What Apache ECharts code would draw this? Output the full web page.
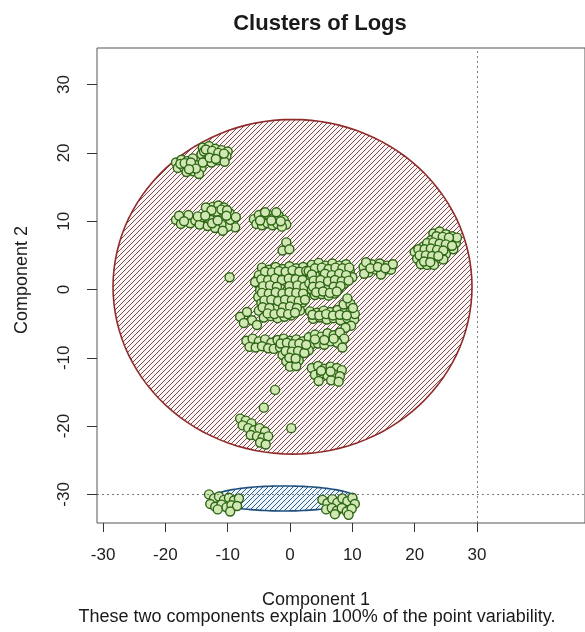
<!DOCTYPE html>
<html>
<head>
<meta charset="utf-8">
<script src="https://cdn.jsdelivr.net/npm/echarts@6/dist/echarts.min.js"></script>
<style>
html,body{margin:0;padding:0;background:#fff;}
#chart{width:585px;height:632px;}
</style>
</head>
<body>
<div id="chart"></div>
<script>
// ---------- data ----------
const chartTitle = 'Clusters of Logs';
const xAxisTitle = 'Component 1';
const yAxisTitle = 'Component 2';
const subTitle = 'These two components explain 100% of the point variability.';

const xTicks = [-30, -20, -10, 0, 10, 20, 30];
const yTicks = [-30, -20, -10, 0, 10, 20, 30];

// cluster ellipses: centre, semi-axes (data units)
const ellipseCX = [0.4, -1.0];
const ellipseCY = [0.4, -30.6];
const ellipseRX = [28.8, 11.7];
const ellipseRY = [24.5, 1.83];

// dotted reference lines
const refLineX = [30];
const refLineY = [-30];

// observation scores
const groupTopLeft = [
  [-14.0,20.8],[-13.0,21.0],[-12.0,20.6],[-11.0,20.4],[-10.0,20.2],[-14.2,19.8],[-13.2,19.9],[-12.2,19.6],
  [-11.2,19.4],[-10.2,19.5],[-13.5,18.8],[-12.6,18.6],[-11.6,18.9],[-10.5,18.7],[-13.8,20.2],[-12.7,20.1],
  [-18.3,18.6],[-17.4,19.0],[-16.5,18.8],[-15.6,19.2],[-18.0,17.8],[-17.0,17.9],[-16.0,18.0],[-15.0,18.2],
  [-14.2,17.8],[-16.6,17.2],[-15.5,17.3],[-14.6,16.9],[-17.6,18.4],[-14.0,18.6],
  [-13.5,20.5],[-12.5,20.3],[-11.5,20.0],[-10.6,19.9],[-12.9,19.3],[-11.9,19.1],[-16.9,18.5],[-15.9,18.6],
  [-15.1,17.7],[-16.2,17.6]
];
const groupLeft10 = [
  [-18.3,10.2],[-17.5,9.6],[-16.8,10.3],[-16.0,9.7],[-15.2,10.1],[-17.8,10.8],[-16.3,10.9],[-14.5,9.5],
  [-14.0,10.6],[-13.2,9.3],[-13.0,11.2],[-12.4,12.1],[-11.5,12.3],[-10.6,12.0],[-12.2,10.4],[-11.3,10.9],
  [-10.5,10.4],[-9.7,11.2],[-9.2,9.8],[-8.8,9.1],[-10.0,9.2],[-11.0,9.5],[-12.0,9.0],[-13.5,12.0],
  [-11.8,11.4],[-9.6,10.2],[-10.8,8.6],[-12.8,10.2],[-14.8,10.7],[-8.7,10.6],
  [-12.6,11.6],[-11.0,11.7],[-10.1,11.6],[-12.5,9.7],[-11.6,10.1],[-10.2,10.8],[-13.6,10.8],[-17.0,10.0]
];
const groupMid10 = [
  [-5.8,10.3],[-5.0,10.9],[-4.2,10.4],[-3.4,10.9],[-2.6,10.5],[-1.8,10.8],[-1.0,10.2],[-0.6,9.5],
  [-5.4,9.6],[-4.5,9.4],[-3.6,9.7],[-2.8,9.4],[-2.0,9.6],[-1.3,9.2],[-4.0,11.3],[-2.2,11.3],
  [-4.8,10.1],[-3.0,10.1],[-1.5,10.0]
];
const groupStray = [
  [-0.6,6.9],[-1.2,5.7],[-0.1,5.9],[-9.7,1.8],[-2.4,-14.7],[-4.2,-17.3],[0.2,-20.3]
];
const groupCore = [
  [-4.5,3.2],[-3.4,2.9],[-2.3,3.3],[-1.2,3.0],[-0.1,3.4],[1.0,3.1],[2.1,3.3],
  [-5.0,2.1],[-3.9,1.8],[-2.8,2.2],[-1.7,1.9],[-0.6,2.3],[0.5,2.0],[1.6,2.2],[2.6,1.9],
  [-5.2,0.9],[-4.2,1.2],[-3.1,0.8],[-2.0,1.1],[-0.9,0.9],[0.2,1.2],[1.3,0.8],[2.4,1.0],
  [-4.8,-0.1],[-3.7,0.2],[-2.6,-0.2],[-1.5,0.1],[-0.4,-0.1],[0.7,0.2],[1.8,-0.2],[2.8,0.1],
  [-5.1,-1.1],[-4.0,-0.9],[-2.9,-1.2],[-1.8,-0.9],[-0.7,-1.1],[0.4,-0.8],[1.5,-1.2],[2.5,-1.0],
  [-4.6,-2.0],[-3.5,-2.3],[-2.4,-1.9],[-1.3,-2.2],[-0.2,-2.0],[0.9,-2.3],[2.0,-1.9],
  [-5.0,-3.1],[-3.9,-2.9],[-2.8,-3.3],[-1.7,-3.0],[-0.6,-3.2],[0.5,-2.9],[1.6,-3.1],
  [-4.2,-4.1],[-3.1,-3.9],[-2.0,-4.2],[-0.9,-4.0],[0.2,-3.8],
  [-5.6,1.1],[-3.0,0.5],[-1.0,1.6],[0.0,-0.6],[1.0,-1.6],[-2.2,-2.7],[0.8,2.6],
  [-8.0,-4.0],[-6.9,-3.3],[-6.1,-4.5],[-5.3,-5.2],[-7.4,-4.9],
  [-4.0,2.6],[-2.9,2.5],[-1.8,2.7],[-0.7,2.6],[0.4,2.8],[1.5,2.6],[2.6,2.7],
  [-4.6,1.5],[-3.5,1.4],[-2.4,1.6],[-1.3,1.4],[-0.2,1.6],[0.9,1.5],[2.0,1.4],
  [-4.3,0.5],[-3.2,0.6],[-2.1,0.4],[-0.1,0.5],[1.2,0.6],[2.3,0.4],
  [-4.5,-0.5],[-3.4,-0.6],[-2.3,-0.4],[-1.2,-0.6],[-0.1,-0.4],[1.0,-0.5],[2.1,-0.6],
  [-4.1,-1.6],[-3.0,-1.5],[-1.9,-1.7],[-0.8,-1.5],[0.3,-1.6],[1.4,-1.7],[2.4,-1.5],
  [-4.4,-2.6],[-3.3,-2.7],[-1.1,-2.6],[0.0,-2.5],[1.1,-2.7],
  [-3.6,-3.5],[-2.5,-3.6],[-1.4,-3.4],[-0.3,-3.6],[0.8,-3.4]
];
const groupCoreRight = [
  [3.5,3.6],[4.6,3.9],[5.7,3.5],[6.8,3.8],[7.9,3.5],[9.0,3.7],
  [3.0,2.7],[4.1,2.5],[5.2,2.8],[6.3,2.6],[7.4,2.8],[8.5,2.5],[9.6,2.7],
  [3.4,1.8],[4.5,1.6],[5.6,1.9],[6.7,1.7],[7.8,1.9],[8.9,1.6],[10.0,1.8],
  [3.1,0.9],[4.2,0.7],[5.3,1.0],[6.4,0.8],[7.5,1.0],[8.6,0.8],
  [3.5,0.0],[4.6,-0.2],[5.7,0.1],[6.8,-0.1],[7.8,0.1],
  [4.0,-0.8],[5.1,-0.7],[6.2,-0.9],[7.2,-0.6],
  [4.0,2.1],[6.0,2.2],[5.0,1.3],[7.0,1.3],[6.0,0.4],
  [4.0,3.1],[5.1,3.2],[6.2,3.0],[7.3,3.2],[8.4,3.1],[9.5,3.2],
  [3.5,2.2],[5.6,2.3],[6.7,2.1],[7.9,2.3],[9.0,2.1],
  [3.8,1.3],[4.9,1.4],[6.1,1.2],[7.2,1.4],[8.3,1.2],[9.4,1.3],
  [3.7,0.4],[4.8,0.5],[7.0,0.4],[8.1,0.5],
  [4.2,-0.4],[5.3,-0.3],[6.4,-0.5],[7.5,-0.3]
];
const groupCoreArm = [
  [3.2,-3.2],[4.3,-3.4],[5.4,-3.1],[6.5,-3.3],[7.6,-3.0],[8.7,-3.3],[9.8,-3.1],
  [3.7,-4.3],[4.8,-4.1],[5.9,-4.4],[7.0,-4.2],[8.1,-4.5],[9.2,-4.2],[10.3,-4.4],
  [8.6,-2.2],[9.7,-2.1],[9.2,-1.3],[10.4,-3.6],[9.8,-5.3],[8.9,-5.6],
  [3.6,-3.7],[4.7,-3.8],[5.8,-3.6],[6.9,-3.8],[8.0,-3.7],[9.1,-3.8],[10.1,-2.7]
];
const groupEast = [
  [11.8,3.3],[12.6,2.5],[13.1,3.7],[13.8,2.9],[14.4,3.8],[15.0,2.7],[15.6,3.5],[16.2,2.9],
  [12.2,4.0],[14.6,2.2],[16.5,3.7],[11.9,2.3],[12.9,3.1],[14.1,3.3],[15.3,3.1]
];
const groupFarEast = [
  [23.0,8.2],[24.0,8.5],[25.0,8.1],[26.0,7.8],[22.6,7.2],[23.6,7.4],[24.6,7.2],[25.6,7.0],
  [26.6,6.8],[21.4,6.3],[22.3,6.4],[23.3,6.4],[24.3,6.2],[25.3,6.1],[26.2,5.9],[20.0,5.5],
  [21.0,5.6],[22.0,5.4],[23.0,5.5],[24.0,5.3],[25.0,5.2],[20.4,4.5],[21.5,4.6],[22.5,4.3],
  [23.6,4.5],[24.6,4.4],[21.0,3.7],[22.0,3.6],[23.1,3.6],[26.8,7.6],
  [23.5,7.8],[24.5,7.7],[25.5,7.6],[22.0,6.8],[23.0,6.9],[24.0,6.7],[25.0,6.6],[26.0,6.4],
  [20.6,5.9],[21.6,5.9],[22.6,6.0],[23.6,5.8],[24.6,5.7],[20.8,5.0],[21.8,5.0],[22.8,4.9],
  [23.8,4.9],[21.5,4.1],[22.5,4.0]
];
const groupSouth = [
  [-7.0,-7.5],[-6.0,-7.2],[-5.0,-7.6],[-4.0,-7.3],[-3.0,-7.8],[-6.5,-8.4],[-5.5,-8.5],[-4.5,-8.3],
  [-3.5,-8.6],[-2.6,-8.7],[-2.0,-7.4],[-1.0,-7.2],[0.0,-7.5],[1.0,-7.3],[2.0,-7.6],[-1.6,-8.5],
  [-0.6,-8.4],[0.4,-8.6],[1.4,-8.5],[2.4,-8.7],[-1.2,-9.6],[-0.2,-9.5],[0.8,-9.7],[1.8,-9.4],
  [-0.6,-10.5],[0.4,-10.6],[1.4,-10.4],[0.0,-11.3],[1.0,-11.2],
  [3.0,-7.0],[4.0,-6.6],[5.0,-6.9],[6.0,-6.4],[7.0,-6.7],[8.0,-6.3],[8.7,-7.2],[3.5,-8.0],
  [4.5,-7.9],[5.5,-8.1],[6.5,-7.6],[7.6,-7.8],[8.4,-8.5],[3.0,-8.9],
  [-1.5,-7.9],[-0.5,-7.8],[0.5,-8.0],[1.5,-7.9],[-0.7,-9.0],[0.3,-9.1],[1.3,-9.0],[2.3,-9.3],
  [-0.1,-10.0],[0.9,-10.1],[2.6,-8.1],[4.0,-7.3],[5.5,-7.4],[7.0,-7.2]
];
const groupSouthEast = [
  [3.5,-11.5],[4.5,-11.2],[5.5,-11.6],[6.5,-11.3],[7.5,-11.5],[8.3,-11.8],[4.0,-12.5],[5.0,-12.3],
  [6.0,-12.6],[7.0,-12.4],[8.0,-12.7],[4.6,-13.4],[6.6,-13.3],[7.8,-13.5],[5.0,-11.9],[6.5,-12.0]
];
const groupSouthWest = [
  [-8.0,-18.9],[-7.1,-19.2],[-6.2,-19.6],[-7.6,-19.9],[-6.7,-20.3],[-5.8,-20.6],[-4.9,-20.3],
  [-4.0,-20.8],[-6.3,-21.3],[-5.3,-21.5],[-4.4,-21.7],[-3.5,-21.5],[-4.8,-22.4],[-3.9,-22.7]
];
const groupBottomLeft = [
  [-13.0,-30.0],[-12.2,-30.6],[-11.4,-30.3],[-10.6,-30.8],[-9.8,-30.5],[-9.0,-30.9],[-8.2,-30.6],
  [-12.8,-31.4],[-12.0,-31.8],[-11.0,-31.5],[-10.2,-31.9],[-9.4,-31.6],[-8.5,-31.7],[-11.6,-32.2],[-9.6,-32.5]
];
const groupBottomRight = [
  [5.2,-30.8],[6.0,-31.3],[6.8,-30.7],[7.6,-31.2],[8.4,-30.6],[9.2,-31.0],[10.0,-30.5],[10.4,-31.4],
  [5.8,-32.2],[6.7,-32.0],[7.5,-32.4],[8.3,-32.0],[9.1,-32.5],[9.9,-32.1],[7.2,-32.9],[9.4,-33.0]
];

// ---------- build ----------
const allPoints = [].concat(groupTopLeft, groupLeft10, groupMid10, groupStray, groupCore,
  groupCoreRight, groupCoreArm, groupEast, groupFarEast, groupSouth, groupSouthEast,
  groupSouthWest, groupBottomLeft, groupBottomRight);

const ellipseData = ellipseCX.map((cx, i) => [cx, ellipseCY[i], ellipseRX[i], ellipseRY[i]]);

// diagonal hatching tile (lines x + y = const, rising to the right)
function hatch(lineColor, bgColor) {
  const s = 5;
  const c = document.createElement('canvas');
  c.width = s; c.height = s;
  const g = c.getContext('2d');
  g.fillStyle = bgColor;
  g.fillRect(0, 0, s, s);
  g.strokeStyle = lineColor;
  g.lineWidth = 1;
  g.beginPath();
  for (let k = 0; k <= 2; k++) {
    const cst = k * s;
    g.moveTo(cst + 3, -3);
    g.lineTo(cst - 3 - s, s + 3);
  }
  g.stroke();
  return c;
}

const fills = [
  { image: hatch('#7a4b4b', '#fdf6f6'), repeat: 'repeat' },
  { image: hatch('#2c5f8e', '#eef5fb'), repeat: 'repeat' }
];
const strokes = ['#8f2a2a', '#1f4f7d'];

const FONT = "'Liberation Sans', Arial, sans-serif";

const chart = echarts.init(document.getElementById('chart'), null, { renderer: 'canvas' });

chart.setOption({
  animation: false,
  backgroundColor: '#ffffff',
  grid: {
    left: 97, top: 48, right: -10, bottom: 109,
    show: true, borderColor: '#555', borderWidth: 1, backgroundColor: 'transparent'
  },
  xAxis: {
    type: 'value', min: -30.97, max: 47.33,
    axisLine: { show: false, onZero: false },
    splitLine: { show: false },
    axisTick: { show: true, customValues: xTicks, length: 9, lineStyle: { color: '#333', width: 1 } },
    axisLabel: { customValues: xTicks, margin: 24, fontSize: 17, color: '#222', fontFamily: FONT }
  },
  yAxis: {
    type: 'value', min: -34.19, max: 35.36,
    axisLine: { show: false, onZero: false },
    splitLine: { show: false },
    axisTick: { show: true, customValues: yTicks, length: 10, lineStyle: { color: '#333', width: 1 } },
    axisLabel: { customValues: yTicks, rotate: 90, margin: 24, fontSize: 17, color: '#222', fontFamily: FONT }
  },
  graphic: [
    { type: 'text', x: 320, y: 24, style: { text: chartTitle, fontSize: 22, fontWeight: 'bold', fontFamily: FONT, fill: '#1a1a1a', align: 'center', verticalAlign: 'middle', textAlign: 'center', textVerticalAlign: 'middle' } },
    { type: 'text', x: 316, y: 600, style: { text: xAxisTitle, fontSize: 18, fontFamily: FONT, fill: '#1a1a1a', align: 'center', verticalAlign: 'middle', textAlign: 'center', textVerticalAlign: 'middle' } },
    { type: 'text', x: 317, y: 617, style: { text: subTitle, fontSize: 18, fontFamily: FONT, fill: '#1a1a1a', align: 'center', verticalAlign: 'middle', textAlign: 'center', textVerticalAlign: 'middle' } },
    { type: 'text', x: 22, y: 280, rotation: Math.PI / 2, style: { text: yAxisTitle, fontSize: 18, fontFamily: FONT, fill: '#1a1a1a', align: 'center', verticalAlign: 'middle', textAlign: 'center', textVerticalAlign: 'middle' } }
  ],
  series: [
    {
      type: 'custom',
      z: 1,
      silent: true,
      data: ellipseData,
      encode: { x: 0, y: 1 },
      renderItem: function (params, api) {
        const cx = api.value(0), cy = api.value(1), rx = api.value(2), ry = api.value(3);
        const pts = [];
        for (let i = 0; i < 120; i++) {
          const t = i / 120 * Math.PI * 2;
          pts.push(api.coord([cx + rx * Math.cos(t), cy + ry * Math.sin(t)]));
        }
        return {
          type: 'polygon',
          shape: { points: pts },
          style: { fill: fills[params.dataIndex], stroke: strokes[params.dataIndex], lineWidth: 1.6 }
        };
      }
    },
    {
      type: 'line',
      z: 2,
      data: [],
      silent: true,
      markLine: {
        silent: true,
        symbol: 'none',
        label: { show: false },
        lineStyle: { color: '#7a7a7a', type: [2, 3], width: 1 },
        data: refLineX.map(v => ({ xAxis: v })).concat(refLineY.map(v => ({ yAxis: v })))
      }
    },
    {
      type: 'scatter',
      z: 3,
      data: allPoints,
      symbol: 'circle',
      symbolSize: 9,
      itemStyle: { color: '#d2e8b4', borderColor: '#2d6615', borderWidth: 1.4, opacity: 1 }
    }
  ]
});
</script>
</body>
</html>
